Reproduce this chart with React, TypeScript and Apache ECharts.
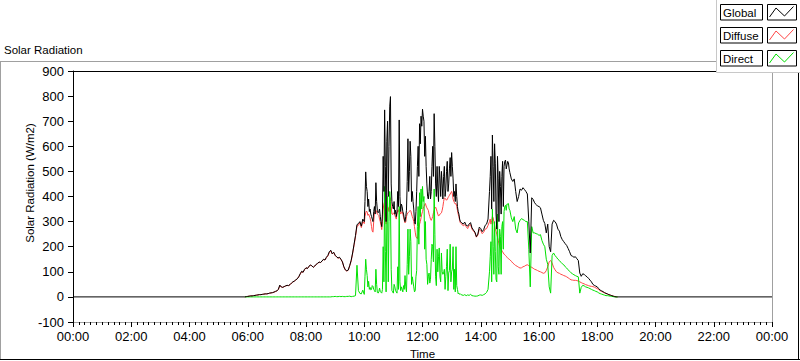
import React, { useEffect, useRef } from 'react';
import * as echarts from 'echarts';

// Main record: samples every 3 minutes, starting at 05:54 (minute 354 of the day)
const START_MIN = 354;
const STEP_MIN = 3;

const globalRad = [
  0, 1, 2, 3, 4, 4, 5, 6, 7, 8, 9, 9, 10, 11, 12, 12, 13, 15, 16, 17,
  19, 22, 24, 30, 47, 40, 38, 41, 44, 46, 45, 49, 55, 60, 63, 68, 72, 80, 92, 102,
  98, 110, 116, 113, 122, 127, 124, 118, 123, 130, 134, 139, 137, 143, 150, 147, 158, 165, 180, 186,
  172, 178, 166, 160, 155, 158, 150, 140, 120, 108, 104, 107, 125,
  145, 175, 210, 245, 288, 292, 300, 282, 310,
  300, 498, 420, 390, 350, 320, 300, 360, 455, 345, 340, 320, 280, 560, 745, 300, 700, 600, 798, 380,
  350, 330, 320, 420, 705, 340, 360, 330, 300, 345, 630, 500, 560, 420, 350, 290, 420, 600, 690, 720,
  748, 700, 640, 450, 390, 480, 420, 600, 730, 450, 520, 380, 470, 500, 390, 520, 430, 540, 450, 555,
  575, 470, 420, 450, 360, 330, 300,
  295, 290, 298, 285, 282, 290, 296, 275, 266, 258, 240, 250, 278, 272, 260, 268, 285, 290, 310, 420,
  560, 645, 380, 530, 270, 470, 500, 330, 540, 520, 545, 525, 535, 495, 470, 460, 470, 420, 380, 400,
  430, 425, 435, 428, 420, 410, 300, 175, 395, 388, 375, 368, 362, 360, 355, 330, 305, 292, 255, 290,
  200, 180, 290, 305, 300, 290, 270,
  262, 240, 228, 220, 212, 205, 193, 180, 165, 162, 158, 160, 152, 145, 95, 82, 92, 90, 84, 80,
  74, 67, 60, 50, 46, 43, 40, 33, 27, 24, 21, 17, 14, 12, 9, 7, 5, 3, 1, 0, 0,
];

const diffuseRad = [
  0, 1, 2, 3, 4, 4, 5, 6, 7, 8, 9, 9, 10, 11, 12, 12, 13, 15, 16, 17,
  19, 21, 24, 29, 44, 40, 38, 41, 43, 46, 45, 48, 55, 59, 63, 67, 72, 80, 90, 100,
  98, 108, 116, 113, 120, 126, 124, 118, 122, 129, 133, 138, 137, 142, 149, 147, 156, 163, 176, 183,
  171, 177, 165, 159, 154, 157, 149, 139, 119, 107, 103, 106, 123,
  143, 172, 205, 240, 282, 285, 296, 276, 300,
  292, 335, 338, 330, 315, 280, 258, 335, 345, 330, 325, 300, 268, 350, 380, 290, 360, 340, 395, 330,
  335, 325, 310, 345, 350, 330, 340, 318, 295, 320, 335, 340, 342, 320, 300, 258, 235, 245, 290, 315,
  340, 360, 372, 355, 345, 320, 305, 320, 345, 358, 340, 322, 330, 335, 360, 395, 390, 388, 400, 410,
  420, 390, 375, 372, 345, 320, 295,
  290, 283, 288, 280, 272, 285, 288, 270, 262, 255, 238, 246, 270, 265, 252, 258, 270, 272, 285, 300,
  290, 320, 300, 270, 250, 225, 200, 190, 180, 170, 165, 158, 152, 148, 142, 135, 130, 125, 122, 118,
  115, 116, 120, 122, 126, 128, 124, 120, 118, 114, 110, 108, 105, 102, 100, 97, 94, 96, 105, 120,
  140, 145, 135, 118, 108, 100, 96,
  94, 90, 88, 85, 83, 80, 76, 72, 68, 67, 66, 66, 65, 63, 60, 57, 54, 52, 49, 47,
  45, 43, 42, 41, 39, 36, 33, 29, 25, 22, 19, 16, 14, 11, 9, 7, 5, 3, 2, 1, 0,
];

const directRad = [
  0, 0, 0, 0, 0, 0, 0, 0, 0, 0, 0, 0, 0, 0, 0, 0, 0, 0, 0, 0,
  0, 0, 0, 0, 0, 0, 0, 0, 0, 0, 0, 0, 0, 0, 0, 0, 0, 0, 0, 0,
  0, 0, 0, 0, 0, 0, 0, 0, 0, 0, 0, 0, 0, 0, 0, 0, 0, 0, 0, 0,
  1, 1, 2, 1, 1, 2, 1, 2, 1, 1, 2, 2, 3,
  1, 2, 3, 5, 126, 25, 14, 12, 27,
  10, 150, 85, 62, 38, 30, 42, 25, 110, 18, 20, 22, 15, 200, 440, 20, 400, 300, 380, 25,
  15, 40, 20, 120, 360, 25, 30, 45, 85, 20, 270, 160, 220, 80, 40, 25, 105, 360, 415, 430,
  440, 400, 300, 130, 80, 55, 150, 200, 430, 80, 190, 160, 80, 175, 90, 110, 80, 190, 95, 210,
  100, 200, 110, 200, 30, 15, 12,
  8, 6, 9, 5, 8, 6, 10, 5, 4, 3, 3, 4, 7, 8, 6, 9, 12, 18, 30, 100,
  220, 350, 90, 180, 60, 120, 270, 90, 300, 340, 365, 370, 372, 345, 315, 300, 320, 270, 255, 295,
  305, 312, 308, 305, 300, 300, 190, 40, 280, 255, 255, 252, 250, 245, 248, 225, 210, 200, 150, 130,
  40, 15, 165, 175, 165, 158, 150,
  145, 138, 132, 128, 120, 115, 108, 102, 96, 92, 88, 85, 82, 80, 15, 38, 46, 44, 40, 38,
  36, 33, 30, 27, 25, 22, 20, 16, 13, 11, 9, 7, 5, 5, 4, 3, 2, 1, 0, 0, 0,
];

// Extra in-between samples during the cloudy, fast-changing periods
// (10:01:30 onward and 14:19:30 onward, also every 3 minutes)
const MIDDAY_EXTRA_START = 601.5;
const globalMidday = [
  380, 440, 360, 340, 330, 310, 340, 330, 380, 335,
  350, 300, 330, 420, 520, 620, 400, 760, 450, 360,
  380, 345, 340, 360, 400, 370, 340, 310, 320, 460,
  420, 620, 380, 380, 300, 340, 520, 480, 610, 680,
  720, 560, 520, 400, 420, 390, 520, 480, 600, 400,
  430, 520, 400, 450, 480, 400, 500, 420, 510, 480,
  520, 400, 380, 400, 340, 310, 298,
];
const diffuseMidday = [
  320, 342, 325, 322, 300, 262, 300, 340, 338, 328,
  310, 285, 300, 370, 340, 320, 355, 370, 360, 328,
  332, 318, 330, 340, 345, 335, 330, 305, 300, 330,
  338, 345, 330, 312, 280, 240, 232, 268, 300, 330,
  352, 368, 362, 350, 330, 310, 312, 335, 355, 350,
  330, 325, 332, 345, 380, 392, 385, 395, 405, 415,
  410, 380, 370, 360, 330, 305, 292,
];
const directMidday = [
  80, 110, 40, 30, 28, 45, 30, 20, 50, 15,
  35, 18, 30, 60, 180, 300, 60, 420, 110, 20,
  50, 25, 15, 30, 60, 40, 20, 30, 40, 130,
  90, 270, 50, 60, 20, 80, 280, 210, 320, 350,
  380, 190, 150, 50, 95, 70, 210, 140, 250, 45,
  100, 195, 60, 100, 95, 30, 120, 25, 105, 60,
  110, 30, 20, 45, 12, 10, 9,
];

const AFTERNOON_EXTRA_START = 859.5;
const globalAfternoon = [480, 350, 520, 610, 330, 560, 300, 440, 480, 360, 540, 510, 540, 510];
const diffuseAfternoon = [310, 305, 315, 285, 262, 238, 212, 195, 185, 175, 168, 162, 155, 150];
const directAfternoon = [160, 60, 200, 300, 70, 330, 90, 240, 280, 190, 360, 345, 370, 350];

// Global radiation is recorded as zero through the night
const nightStartMin = 0;
const nightEndMin = 1440;
const nightValue = 0;

const AXIS_MIN_X = 0;
const AXIS_MAX_X = 1440;
const AXIS_STEP_X = 120;
const AXIS_MIN_Y = -100;
const AXIS_MAX_Y = 900;
const AXIS_STEP_Y = 100;

const fmtTime = (v: number) => {
  const m = ((Math.round(v) % 1440) + 1440) % 1440;
  const hh = String(Math.floor(m / 60)).padStart(2, '0');
  const mm = String(m % 60).padStart(2, '0');
  return `${hh}:${mm}`;
};

const TEXT_FONT = '"Liberation Sans", Arial, sans-serif';
const TICK_FONT = '"Liberation Sans Narrow", "Arial Narrow", "Liberation Sans", sans-serif';

const toPairs = (start: number, step: number, arr: number[]) =>
  arr.map((v, i) => [start + i * step, v]);

const buildSeries = (main: number[], midday: number[], afternoon: number[]) =>
  [
    ...toPairs(START_MIN, STEP_MIN, main),
    ...toPairs(MIDDAY_EXTRA_START, STEP_MIN, midday),
    ...toPairs(AFTERNOON_EXTRA_START, STEP_MIN, afternoon),
  ].sort((a, b) => a[0] - b[0]);

export default function App() {
  const ref = useRef<HTMLDivElement>(null);

  useEffect(() => {
    if (!ref.current) return;
    const chart = echarts.init(ref.current, undefined, { renderer: 'svg' });

    const globalData = [
      [nightStartMin, nightValue],
      ...buildSeries(globalRad, globalMidday, globalAfternoon),
      [nightEndMin, nightValue],
    ];
    const diffuseData = buildSeries(diffuseRad, diffuseMidday, diffuseAfternoon);
    const directData = buildSeries(directRad, directMidday, directAfternoon);

    const legendItems = [
      { name: 'Global', color: '#000000' },
      { name: 'Diffuse', color: '#ff4646' },
      { name: 'Direct', color: '#00e000' },
    ];

    const legendGraphics: any[] = [
      {
        type: 'rect',
        z: 100,
        shape: { x: 716.5, y: -1, width: 90, height: 73.5 },
        style: { fill: '#ffffff', stroke: '#c8c8c8', lineWidth: 1 },
      },
    ];
    legendItems.forEach((it, k) => {
      const y0 = 4.5 + k * 23;
      legendGraphics.push(
        {
          type: 'rect',
          z: 101,
          shape: { x: 720.5, y: y0, width: 42, height: 15.5 },
          style: { fill: '#ffffff', stroke: '#000000', lineWidth: 1 },
        },
        {
          type: 'text',
          z: 102,
          x: 723,
          y: y0 + 8,
          style: {
            text: it.name,
            fill: '#000000',
            font: `11.5px ${TEXT_FONT}`,
            textVerticalAlign: 'middle',
            verticalAlign: 'middle',
          },
        },
        {
          type: 'rect',
          z: 101,
          shape: { x: 767.5, y: y0, width: 29, height: 15.5 },
          style: { fill: '#ffffff', stroke: '#000000', lineWidth: 1 },
        },
        {
          type: 'polyline',
          z: 102,
          shape: {
            points: [
              [769.5, y0 + 12.5],
              [776, y0 + 3.5],
              [784.5, y0 + 11.5],
              [793.5, y0 + 2],
            ],
          },
          style: { stroke: it.color, lineWidth: 1, fill: 'none' },
        }
      );
    });

    const option: any = {
      animation: false,
      backgroundColor: '#ffffff',
      grid: {
        left: 73,
        right: 28,
        top: 71,
        bottom: 39,
        containLabel: false,
        outerBoundsMode: 'none',
      },
      xAxis: [
        {
          type: 'value',
          position: 'bottom',
          min: AXIS_MIN_X,
          max: AXIS_MAX_X,
          interval: AXIS_STEP_X,
          axisLine: { show: true, onZero: false, lineStyle: { color: '#a0a0a0', width: 1 } },
          axisTick: { show: true, length: 5, inside: false, lineStyle: { color: '#000000' } },
          minorTick: { show: true, splitNumber: 10, length: 3, lineStyle: { color: '#000000' } },
          splitLine: { show: false },
          minorSplitLine: { show: false },
          axisLabel: {
            formatter: fmtTime,
            color: '#000000',
            fontSize: 13,
            fontFamily: TICK_FONT,
            margin: 8,
          },
          name: 'Time',
          nameLocation: 'middle',
          nameGap: 26,
          nameTextStyle: { color: '#000000', fontSize: 11.5, fontFamily: TEXT_FONT },
        },
        {
          type: 'value',
          position: 'top',
          min: AXIS_MIN_X,
          max: AXIS_MAX_X,
          axisLine: { show: true, onZero: false, lineStyle: { color: '#000000', width: 1 } },
          axisTick: { show: false },
          axisLabel: { show: false },
          splitLine: { show: false },
        },
      ],
      yAxis: [
        {
          type: 'value',
          position: 'left',
          min: AXIS_MIN_Y,
          max: AXIS_MAX_Y,
          interval: AXIS_STEP_Y,
          axisLine: { show: true, onZero: false, lineStyle: { color: '#000000', width: 1 } },
          axisTick: { show: true, length: 5, inside: false, lineStyle: { color: '#000000' } },
          splitLine: { show: false },
          axisLabel: {
            color: '#000000',
            fontSize: 13,
            fontFamily: TICK_FONT,
            margin: 9,
          },
        },
        {
          type: 'value',
          position: 'right',
          min: AXIS_MIN_Y,
          max: AXIS_MAX_Y,
          axisLine: { show: true, onZero: false, lineStyle: { color: '#a0a0a0', width: 1 } },
          axisTick: { show: false },
          axisLabel: { show: false },
          splitLine: { show: false },
        },
      ],
      series: [
        {
          name: 'Diffuse',
          type: 'line',
          data: diffuseData,
          showSymbol: false,
          symbol: 'none',
          lineStyle: { color: '#ff4646', width: 1 },
          itemStyle: { color: '#ff4646' },
          z: 2,
        },
        {
          name: 'Direct',
          type: 'line',
          data: directData,
          showSymbol: false,
          symbol: 'none',
          lineStyle: { color: '#00e000', width: 1 },
          itemStyle: { color: '#00e000' },
          z: 3,
        },
        {
          name: 'Global',
          type: 'line',
          data: globalData,
          showSymbol: false,
          symbol: 'none',
          lineStyle: { color: '#000000', width: 1 },
          itemStyle: { color: '#000000' },
          z: 4,
        },
      ],
      graphic: [
        // outer panel frame
        { type: 'line', z: 50, shape: { x1: 0, y1: 61.5, x2: 717, y2: 61.5 }, style: { stroke: '#a0a0a0', lineWidth: 1 } },
        { type: 'line', z: 50, shape: { x1: 0.5, y1: 61.5, x2: 0.5, y2: 360 }, style: { stroke: '#a0a0a0', lineWidth: 1 } },
        { type: 'line', z: 50, shape: { x1: 0, y1: 359.5, x2: 800, y2: 359.5 }, style: { stroke: '#000000', lineWidth: 1 } },
        { type: 'line', z: 50, shape: { x1: 798.5, y1: 61.5, x2: 798.5, y2: 360 }, style: { stroke: '#000000', lineWidth: 1 } },
        {
          type: 'text',
          z: 50,
          x: 4,
          y: 50,
          style: {
            text: 'Solar Radiation',
            fill: '#000000',
            font: `11.5px ${TEXT_FONT}`,
            textVerticalAlign: 'middle',
            verticalAlign: 'middle',
          },
        },
        {
          type: 'text',
          z: 50,
          x: 30,
          y: 183,
          rotation: Math.PI / 2,
          style: {
            text: 'Solar Radiation (W/m2)',
            fill: '#000000',
            font: `11.5px ${TEXT_FONT}`,
            align: 'center',
            textAlign: 'center',
            verticalAlign: 'middle',
            textVerticalAlign: 'middle',
          },
        },
        ...legendGraphics,
      ],
    };

    chart.setOption(option);
    return () => chart.dispose();
  }, []);

  return (
    <div
      ref={ref}
      style={{ position: 'fixed', left: 0, top: 0, width: 800, height: 361, background: '#ffffff' }}
    />
  );
}
